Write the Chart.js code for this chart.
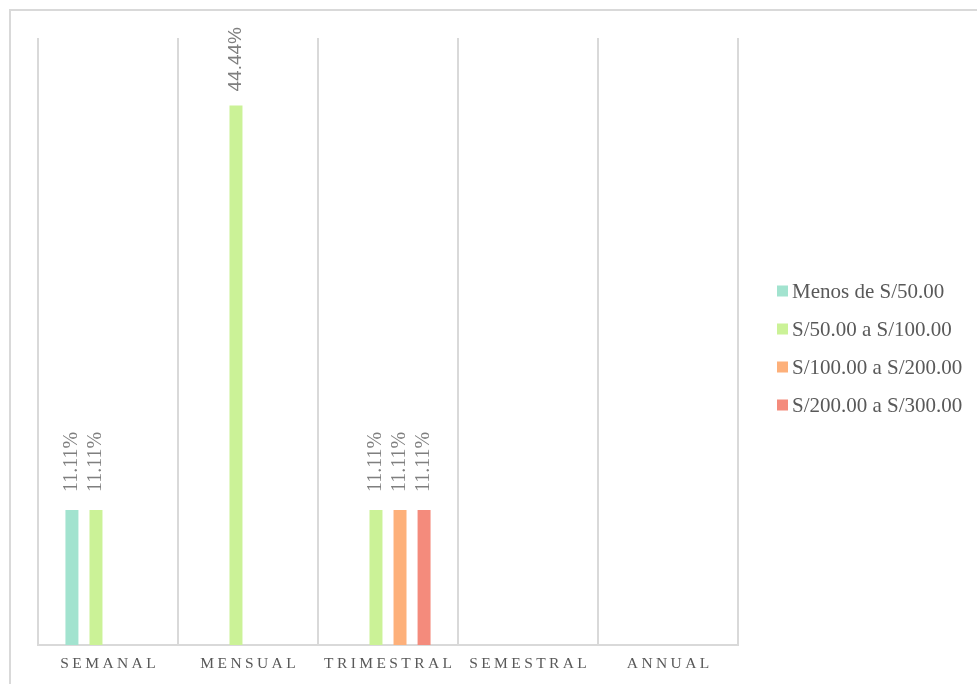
<!DOCTYPE html>
<html>
<head>
<meta charset="utf-8">
<script src="https://cdn.jsdelivr.net/npm/chart.js@4"></script>
<style>
  body { margin: 0; background: #fff; }
  canvas { display: block; }
</style>
</head>
<body>
<canvas id="myChart" width="977" height="684"></canvas>
<script>
// periodos y porcentajes por rango de gasto
const periodos = ["Semanal", "Mensual", "Trimestral", "Semestral", "Annual"];
const menosDe50 = [11.11, null, null, null, null];
const de50a100 = [11.11, 44.44, 11.11, null, null];
const de100a200 = [null, null, 11.11, null, null];
const de200a300 = [null, null, 11.11, null, null];

const rangos = ["Menos de S/50.00", "S/50.00 a S/100.00", "S/100.00 a S/200.00", "S/200.00 a S/300.00"];
const colores = ["#a2e3cf", "#cbf297", "#fdb07a", "#f48b7c"];

const gris = "#d9d9d9";
const serif = "'Liberation Serif', 'Times New Roman', serif";
const sans = "'Liberation Sans', Arial, sans-serif";

// marco, nombres de periodo, etiquetas de valor y leyenda
const extras = {
  id: "extras",
  beforeDraw(chart) {
    const ctx = chart.ctx;
    ctx.save();
    ctx.strokeStyle = gris;
    ctx.lineWidth = 2;
    ctx.strokeRect(10, 10, 1000, 1000);
    ctx.restore();
  },
  afterDraw(chart) {
    const ctx = chart.ctx;
    const x = chart.scales.x;
    const area = chart.chartArea;

    // nombres de los periodos con espaciado
    ctx.save();
    ctx.fillStyle = "#595959";
    ctx.font = "15.5px " + serif;
    ctx.letterSpacing = "3.4px";
    ctx.textAlign = "center";
    ctx.textBaseline = "middle";
    periodos.forEach((p, i) => {
      ctx.fillText(p.toUpperCase(), x.getPixelForValue(i) + 1.7, area.bottom + 19);
    });
    ctx.restore();

    // porcentajes verticales sobre cada barra
    chart.data.datasets.forEach((ds, d) => {
      const meta = chart.getDatasetMeta(d);
      meta.data.forEach((bar, i) => {
        const v = ds.data[i];
        if (v == null) return;
        const grande = v > 40;
        ctx.save();
        ctx.fillStyle = "#7f7f7f";
        ctx.font = grande ? "19px " + sans : "20px " + serif;
        ctx.textAlign = "left";
        ctx.textBaseline = "middle";
        ctx.translate(bar.x, bar.y - (grande ? 14 : 18));
        ctx.rotate(-Math.PI / 2);
        ctx.fillText(v.toFixed(2) + "%", 0, 0);
        ctx.restore();
      });
    });

    // leyenda
    ctx.save();
    ctx.font = "21px " + serif;
    ctx.textAlign = "left";
    ctx.textBaseline = "middle";
    chart.data.datasets.forEach((ds, d) => {
      const y = 291 + d * 38;
      ctx.fillStyle = ds.backgroundColor;
      ctx.fillRect(777, y - 5.5, 11, 11);
      ctx.fillStyle = "#595959";
      ctx.fillText(ds.label, 792, y + 1);
    });
    ctx.restore();
  }
};

const series = [menosDe50, de50a100, de100a200, de200a300];

new Chart(document.getElementById("myChart"), {
  type: "bar",
  data: {
    labels: periodos,
    datasets: series.map((s, i) => ({
      label: rangos[i],
      data: s,
      backgroundColor: colores[i],
      categoryPercentage: 0.687,
      barPercentage: 0.54
    }))
  },
  options: {
    responsive: false,
    animation: false,
    devicePixelRatio: 1,
    layout: { padding: { left: 38, top: 38, right: 239, bottom: 39 } },
    plugins: {
      legend: { display: false },
      tooltip: { enabled: false }
    },
    scales: {
      x: {
        grid: { offset: true, color: gris, lineWidth: 2, drawTicks: false },
        border: { color: gris, width: 2 },
        ticks: { display: false }
      },
      y: {
        display: false,
        min: 0,
        max: 50
      }
    }
  },
  plugins: [extras]
});
</script>
</body>
</html>
